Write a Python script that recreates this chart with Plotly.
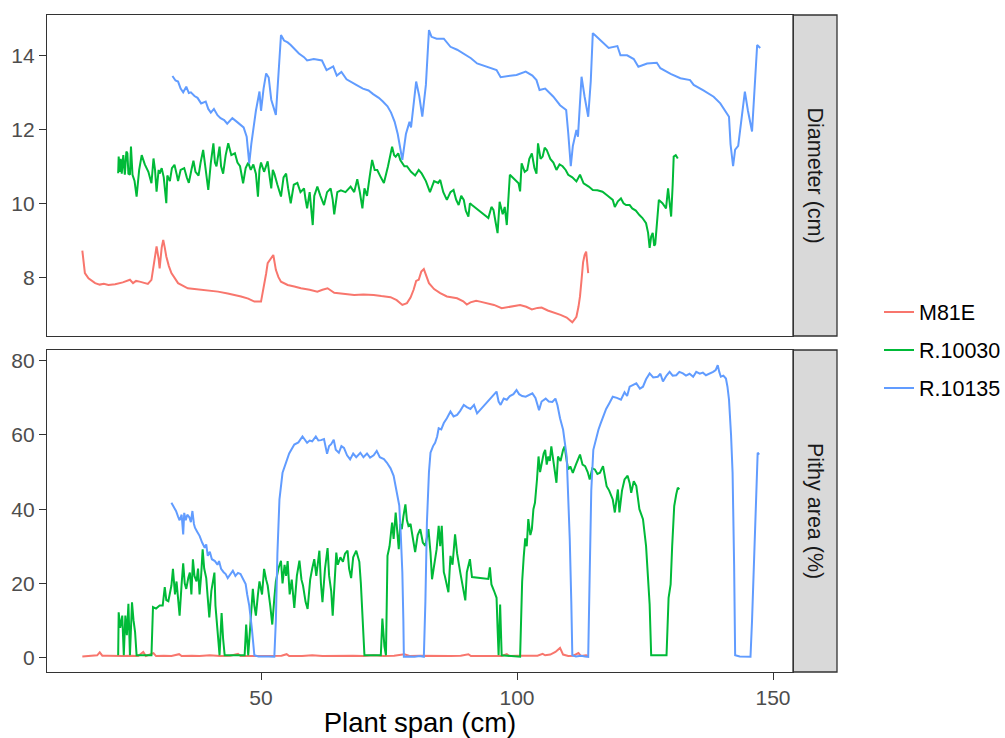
import plotly.graph_objects as go

# ---------------- data ----------------
series_names = ["M81E", "R.10030", "R.10135"]
series_colors = ["#F8766D", "#00BA38", "#619CFF"]

m81e_diam_x = [15.1, 15.6, 16.3, 17.0, 17.6, 18.5, 19.3, 20.2, 21.5, 23.0, 24.4, 25.0, 25.6, 26.3, 27.1, 27.9, 28.6, 29.2, 29.6, 30.0, 30.2, 30.6, 30.9, 31.2, 31.5, 32.0, 32.5, 33.8, 35.7, 37.0, 38.3, 40.0, 41.6, 43.5, 45.0, 46.1, 47.5, 48.7, 50.0, 50.6, 51.0, 51.3, 51.9, 52.4, 52.9, 53.4, 53.9, 55.2, 56.5, 57.8, 59.5, 61.0, 62.0, 63.0, 64.3, 66.0, 68.2, 70.0, 72.0, 73.5, 75.3, 76.5, 77.6, 78.5, 79.2, 79.8, 80.3, 80.8, 81.3, 81.8, 82.3, 82.8, 83.8, 85.0, 86.3, 88.3, 89.5, 90.2, 90.9, 92.0, 92.8, 94.1, 95.5, 97.0, 98.8, 100.6, 101.8, 102.9, 104.0, 104.8, 106.0, 107.1, 108.5, 109.7, 110.3, 110.8, 111.2, 111.6, 112.0, 112.3, 112.6, 112.9, 113.2, 113.5, 113.9]
m81e_diam_y = [8.72, 8.11, 7.97, 7.90, 7.84, 7.80, 7.82, 7.79, 7.81, 7.86, 7.93, 7.84, 7.90, 7.88, 7.86, 7.82, 7.93, 8.40, 8.83, 8.50, 8.24, 8.80, 9.01, 8.80, 8.56, 8.30, 8.11, 7.84, 7.70, 7.68, 7.66, 7.62, 7.61, 7.56, 7.52, 7.48, 7.42, 7.34, 7.34, 7.75, 8.10, 8.38, 8.51, 8.60, 8.20, 8.00, 7.88, 7.79, 7.75, 7.70, 7.66, 7.61, 7.66, 7.70, 7.58, 7.55, 7.52, 7.53, 7.52, 7.49, 7.46, 7.38, 7.25, 7.30, 7.45, 7.66, 7.90, 7.93, 8.15, 8.22, 8.00, 7.84, 7.68, 7.57, 7.48, 7.43, 7.35, 7.26, 7.32, 7.36, 7.34, 7.30, 7.25, 7.16, 7.20, 7.25, 7.20, 7.13, 7.17, 7.18, 7.10, 7.05, 6.98, 6.91, 6.85, 6.78, 6.85, 6.93, 7.20, 7.48, 7.93, 8.40, 8.60, 8.69, 8.11]

r10030_diam_x = [22.1, 22.2, 22.4, 22.6, 22.8, 23.1, 23.4, 23.7, 23.9, 24.1, 24.4, 24.6, 24.9, 25.3, 25.7, 26.2, 26.7, 27.3, 28.0, 28.4, 28.6, 29.0, 29.3, 29.6, 30.0, 30.2, 30.6, 31.0, 31.5, 31.7, 32.2, 32.6, 33.1, 33.5, 33.8, 34.3, 35.0, 35.5, 35.9, 36.4, 36.8, 37.2, 37.8, 38.2, 38.7, 39.2, 39.7, 40.2, 40.7, 41.0, 41.3, 41.9, 42.2, 42.6, 43.1, 43.6, 44.2, 44.9, 45.4, 45.9, 46.5, 47.0, 47.5, 48.0, 48.5, 49.0, 49.4, 49.7, 50.0, 50.6, 51.3, 51.7, 52.0, 52.3, 52.6, 53.2, 53.9, 54.4, 54.9, 55.3, 55.8, 56.4, 57.1, 57.7, 58.4, 58.7, 59.0, 59.5, 60.1, 60.4, 61.0, 61.6, 62.3, 62.9, 63.6, 64.0, 64.3, 64.9, 65.6, 66.5, 67.5, 68.2, 68.8, 69.3, 69.8, 70.2, 70.7, 71.2, 71.7, 72.2, 72.7, 73.4, 74.0, 74.8, 75.6, 76.0, 76.3, 76.8, 77.2, 78.0, 78.5, 79.3, 80.1, 80.8, 81.4, 82.2, 83.0, 83.8, 84.6, 85.0, 85.6, 86.3, 87.0, 87.6, 88.1, 88.6, 89.1, 89.6, 90.0, 90.5, 90.8, 91.2, 94.4, 95.0, 95.4, 95.8, 96.2, 96.6, 97.2, 97.6, 98.0, 98.6, 99.5, 100.3, 100.6, 100.9, 101.5, 102.0, 102.4, 102.9, 103.4, 103.8, 104.1, 104.6, 105.0, 105.4, 105.8, 106.5, 107.1, 107.7, 108.3, 108.9, 109.5, 110.0, 110.8, 111.6, 112.3, 113.0, 114.0, 114.8, 115.7, 116.7, 117.7, 118.7, 119.1, 119.7, 120.3, 120.8, 121.3, 122.0, 122.5, 123.2, 123.9, 124.5, 125.2, 125.6, 125.9, 126.2, 126.5, 126.8, 127.0, 127.3, 127.7, 128.4, 129.1, 129.5, 130.1, 130.4, 130.6, 131.0, 131.4]
r10030_diam_y = [10.81, 11.26, 10.85, 11.20, 10.80, 11.30, 10.77, 11.40, 11.35, 10.80, 10.77, 11.53, 10.77, 10.60, 10.18, 10.90, 11.30, 11.05, 10.85, 10.60, 10.54, 11.21, 10.90, 10.31, 10.90, 10.80, 10.95, 10.70, 10.00, 10.75, 10.60, 10.95, 11.04, 10.80, 10.60, 10.90, 10.95, 10.70, 10.55, 10.90, 11.15, 10.85, 10.75, 11.10, 11.44, 10.90, 10.36, 11.10, 11.62, 11.10, 11.00, 11.53, 11.00, 10.80, 11.30, 11.62, 11.30, 11.35, 11.10, 11.00, 10.54, 10.95, 11.10, 10.90, 11.05, 10.80, 10.18, 10.90, 11.10, 10.85, 11.13, 10.70, 10.40, 10.90, 10.80, 10.50, 10.18, 10.70, 10.80, 10.40, 10.00, 10.50, 10.55, 10.30, 10.40, 10.10, 9.86, 10.30, 9.41, 10.20, 10.45, 10.20, 9.95, 10.30, 10.40, 10.10, 9.70, 10.30, 10.35, 10.30, 10.45, 10.30, 10.65, 10.30, 9.86, 10.40, 10.20, 10.70, 11.17, 10.90, 10.90, 10.70, 10.55, 11.00, 11.53, 11.30, 11.26, 11.35, 11.17, 11.00, 11.00, 10.85, 10.75, 10.90, 10.80, 10.60, 10.30, 10.60, 10.55, 10.63, 10.30, 10.09, 10.30, 10.36, 10.10, 9.95, 10.20, 10.09, 9.80, 9.64, 10.00, 9.95, 9.60, 9.90, 9.82, 9.50, 9.19, 10.04, 9.70, 9.90, 9.41, 10.77, 10.65, 10.54, 10.32, 11.08, 10.85, 10.90, 11.20, 11.35, 10.95, 10.80, 11.62, 11.20, 11.26, 11.50, 11.44, 11.20, 11.10, 10.90, 11.05, 11.00, 10.90, 10.77, 10.70, 10.59, 10.77, 10.54, 10.45, 10.36, 10.35, 10.31, 10.20, 10.09, 9.90, 10.05, 10.13, 10.00, 9.95, 9.95, 9.86, 9.80, 9.68, 9.60, 9.46, 9.20, 8.79, 9.10, 9.20, 8.85, 8.90, 9.50, 10.09, 10.00, 9.86, 10.40, 9.64, 10.50, 11.26, 11.30, 11.21]

r10135_diam_x = [32.7, 33.3, 33.8, 34.3, 34.8, 35.4, 35.9, 36.3, 37.0, 37.6, 38.3, 39.2, 39.7, 40.2, 40.8, 41.5, 42.1, 42.8, 43.4, 44.4, 45.3, 46.0, 46.6, 47.2, 47.7, 48.1, 48.6, 49.0, 49.7, 50.0, 50.5, 51.0, 51.5, 52.0, 52.9, 53.3, 53.9, 54.5, 55.2, 55.8, 56.4, 57.4, 58.4, 59.0, 60.3, 61.1, 61.9, 62.8, 64.1, 64.8, 65.7, 66.7, 67.7, 68.6, 69.9, 71.0, 71.9, 73.0, 73.8, 74.7, 75.4, 76.1, 76.7, 77.2, 77.6, 78.3, 79.0, 79.3, 80.3, 80.9, 81.5, 82.2, 82.8, 83.3, 84.3, 85.7, 87.0, 88.3, 89.6, 91.0, 92.2, 94.0, 96.0, 96.8, 98.5, 99.9, 101.7, 103.0, 103.8, 104.4, 105.5, 107.1, 108.4, 109.6, 110.0, 110.5, 110.9, 111.6, 111.9, 112.6, 113.2, 113.9, 114.4, 114.8, 115.2, 116.6, 117.9, 119.6, 120.2, 121.5, 122.8, 123.7, 125.4, 127.3, 128.0, 130.0, 131.9, 133.8, 134.5, 136.4, 138.4, 139.7, 140.6, 141.4, 141.7, 142.2, 142.6, 143.2, 144.5, 145.1, 145.9, 146.4, 146.9, 147.5]
r10135_diam_y = [13.44, 13.32, 13.29, 13.10, 13.00, 13.15, 12.98, 13.00, 12.90, 12.85, 12.70, 12.75, 12.55, 12.45, 12.55, 12.38, 12.30, 12.25, 12.15, 12.30, 12.20, 12.12, 12.05, 11.80, 11.08, 11.60, 12.10, 12.50, 13.02, 12.50, 13.10, 13.51, 13.40, 12.80, 12.39, 13.40, 14.55, 14.40, 14.35, 14.28, 14.20, 14.05, 13.95, 13.86, 13.90, 13.88, 13.86, 13.60, 13.70, 13.45, 13.55, 13.35, 13.28, 13.20, 13.10, 13.05, 12.95, 12.85, 12.75, 12.62, 12.45, 12.20, 11.87, 11.50, 11.17, 11.87, 12.20, 12.05, 13.29, 12.90, 12.34, 13.20, 14.68, 14.50, 14.45, 14.45, 14.23, 14.15, 14.05, 13.92, 13.78, 13.70, 13.60, 13.41, 13.45, 13.47, 13.56, 13.45, 13.33, 13.06, 13.10, 12.88, 12.65, 12.52, 11.90, 11.00, 11.55, 11.98, 11.80, 13.42, 12.88, 12.34, 13.30, 14.60, 14.55, 14.38, 14.20, 14.25, 14.00, 14.00, 13.90, 13.69, 13.78, 13.80, 13.65, 13.50, 13.38, 13.33, 13.20, 13.05, 12.88, 12.70, 12.52, 12.34, 11.60, 11.00, 11.45, 11.55, 13.02, 12.50, 11.94, 12.97, 14.28, 14.20]

m81e_pith_x = [15.1, 16.0, 17.0, 18.0, 18.5, 19.0, 20.0, 21.5, 23.0, 24.5, 26.0, 27.0, 27.5, 29.0, 29.5, 31.0, 32.5, 34.0, 34.5, 36.5, 38.0, 40.0, 42.0, 44.0, 45.5, 46.0, 48.0, 50.0, 52.0, 54.0, 55.0, 55.5, 58.0, 60.0, 62.0, 64.0, 66.0, 68.0, 70.0, 72.0, 74.0, 76.0, 78.0, 79.0, 81.0, 83.0, 85.0, 87.0, 89.0, 90.5, 91.0, 93.0, 95.0, 97.0, 98.0, 98.5, 100.0, 102.0, 104.0, 105.0, 105.5, 106.5, 107.5, 108.4, 109.0, 110.0, 111.0, 112.0, 112.5, 113.5, 113.9]
m81e_pith_y = [0.3, 0.35, 0.5, 0.6, 1.4, 0.5, 0.5, 0.4, 0.4, 0.5, 0.4, 1.5, 0.4, 1.2, 0.4, 0.5, 0.4, 0.9, 0.4, 0.5, 0.4, 0.6, 0.4, 0.5, 1.0, 0.4, 0.4, 0.5, 0.4, 0.5, 0.9, 0.4, 0.4, 0.6, 0.4, 0.5, 0.4, 0.5, 0.4, 0.6, 0.4, 0.5, 0.9, 0.4, 0.5, 0.4, 0.5, 0.4, 0.5, 0.9, 0.4, 0.4, 0.5, 0.4, 0.9, 0.4, 0.5, 0.4, 0.5, 1.0, 0.6, 0.8, 1.5, 2.6, 0.8, 0.4, 0.5, 1.2, 0.4, 0.6, 0.4]

r10030_pith_x = [22.1, 22.2, 22.5, 22.9, 23.2, 23.5, 23.8, 24.1, 24.4, 24.8, 25.1, 25.4, 25.7, 28.6, 28.9, 29.5, 30.2, 30.8, 31.2, 31.5, 31.9, 32.5, 32.8, 33.2, 33.5, 34.1, 34.5, 34.8, 35.1, 35.4, 35.8, 36.1, 36.4, 36.7, 37.0, 37.4, 37.7, 38.0, 38.3, 38.6, 38.9, 39.3, 39.6, 39.9, 40.3, 40.9, 41.1, 41.4, 41.7, 41.9, 42.3, 42.6, 42.9, 46.8, 47.1, 47.5, 47.9, 48.4, 48.7, 49.0, 49.4, 49.7, 50.2, 50.6, 51.0, 51.3, 51.8, 52.2, 52.6, 52.9, 53.4, 53.9, 54.2, 54.6, 54.9, 55.2, 55.6, 56.0, 56.5, 57.0, 57.5, 57.9, 58.2, 58.7, 59.1, 59.6, 60.0, 60.4, 60.8, 61.4, 61.7, 62.0, 62.5, 63.0, 63.3, 63.7, 64.0, 64.4, 64.7, 65.0, 65.5, 66.0, 66.4, 66.9, 67.2, 67.6, 68.0, 68.6, 69.2, 69.5, 69.8, 70.2, 73.4, 73.7, 74.1, 74.4, 74.7, 75.1, 75.6, 75.9, 76.3, 76.6, 76.9, 77.2, 77.5, 77.8, 78.2, 78.5, 78.8, 79.2, 79.5, 79.8, 80.1, 80.6, 81.1, 81.6, 82.1, 82.7, 83.1, 83.4, 83.8, 84.3, 84.7, 85.0, 85.3, 85.7, 85.9, 86.3, 86.6, 87.0, 87.4, 87.9, 88.3, 88.9, 89.3, 89.9, 90.2, 90.8, 91.2, 94.4, 94.7, 95.0, 95.5, 96.0, 96.2, 96.4, 96.7, 97.0, 100.6, 101.0, 101.3, 101.6, 101.9, 102.2, 102.6, 102.9, 103.2, 103.5, 103.9, 104.2, 104.5, 104.8, 105.2, 105.5, 105.8, 106.1, 106.4, 106.7, 107.2, 107.7, 108.0, 108.5, 109.0, 109.3, 109.7, 110.0, 110.4, 110.9, 111.5, 112.3, 112.8, 113.3, 113.8, 114.2, 114.7, 115.2, 115.7, 116.2, 116.8, 117.5, 118.0, 118.7, 119.1, 119.4, 119.7, 120.0, 120.5, 121.0, 121.6, 122.0, 122.3, 122.8, 123.3, 123.9, 124.6, 125.2, 125.6, 125.9, 126.2, 129.2, 129.6, 130.0, 130.3, 130.7, 131.1, 131.4, 131.7]
r10030_pith_y = [0.6, 12.2, 8.0, 11.3, 0.6, 11.3, 6.0, 14.5, 0.6, 14.9, 10.0, 6.9, 0.6, 0.6, 13.6, 13.2, 14.0, 14.0, 19.0, 15.5, 15.2, 19.4, 23.9, 17.0, 20.5, 11.3, 20.0, 25.4, 20.0, 18.5, 21.5, 22.9, 17.0, 26.5, 22.0, 20.5, 24.0, 17.0, 22.0, 29.2, 24.0, 21.4, 16.0, 10.8, 18.0, 22.9, 14.0, 9.8, 4.0, 0.6, 12.0, 5.0, 0.6, 0.6, 8.9, 0.6, 10.0, 18.5, 14.0, 11.3, 17.0, 20.5, 17.0, 23.9, 21.0, 19.4, 14.0, 8.9, 16.0, 20.5, 24.0, 26.1, 20.0, 25.0, 22.0, 26.0, 17.0, 21.0, 13.4, 22.0, 26.1, 21.0, 19.4, 15.0, 13.1, 21.0, 24.0, 26.5, 22.0, 28.8, 20.0, 14.9, 24.0, 29.5, 22.0, 18.0, 11.3, 22.0, 28.3, 25.0, 27.0, 25.8, 28.0, 28.8, 24.0, 21.4, 27.0, 28.8, 25.8, 20.0, 11.3, 0.6, 0.6, 10.5, 3.0, 0.6, 27.4, 30.0, 36.4, 32.0, 39.1, 34.0, 29.2, 36.0, 34.6, 38.0, 41.3, 37.0, 35.5, 36.0, 33.7, 31.0, 28.4, 33.0, 34.6, 31.0, 30.1, 34.6, 28.3, 21.1, 25.0, 29.2, 35.5, 30.0, 35.5, 23.0, 22.0, 19.0, 17.6, 27.4, 25.0, 33.2, 28.0, 23.0, 20.0, 15.4, 23.0, 26.5, 21.7, 21.2, 24.3, 19.7, 18.0, 16.1, 8.0, 0.6, 14.3, 0.6, 0.2, 20.5, 27.0, 32.1, 30.0, 37.3, 33.0, 34.6, 40.0, 41.7, 48.0, 54.2, 50.0, 52.5, 55.0, 56.0, 52.0, 54.2, 53.0, 56.9, 52.0, 47.1, 54.2, 53.0, 56.0, 56.9, 53.0, 50.7, 51.5, 49.8, 52.0, 54.7, 52.0, 51.6, 50.0, 48.0, 51.0, 50.7, 49.5, 49.8, 51.6, 46.2, 45.0, 42.6, 39.1, 43.0, 45.3, 39.1, 45.0, 48.0, 49.0, 47.0, 44.4, 47.5, 46.2, 40.0, 37.3, 30.1, 22.0, 14.3, 0.6, 0.6, 16.1, 19.7, 30.0, 40.8, 44.0, 45.8, 45.3]

r10135_pith_x = [32.5, 32.8, 33.1, 33.4, 33.8, 34.1, 34.5, 34.8, 35.0, 35.3, 35.6, 36.0, 36.3, 36.6, 36.9, 37.1, 37.5, 38.0, 38.5, 39.0, 39.3, 39.6, 40.0, 40.4, 41.0, 41.5, 41.8, 42.2, 42.7, 43.1, 43.5, 44.0, 44.5, 45.0, 45.5, 46.0, 46.5, 47.0, 47.3, 47.7, 48.2, 48.7, 49.5, 50.5, 51.5, 52.6, 52.9, 53.2, 53.6, 54.2, 54.8, 55.5, 56.5, 57.3, 58.1, 58.6, 59.0, 59.5, 60.0, 60.7, 61.2, 61.7, 62.3, 62.9, 63.3, 63.7, 64.2, 64.6, 65.2, 65.7, 66.2, 66.8, 67.4, 68.0, 68.6, 69.4, 70.0, 70.7, 71.3, 72.0, 72.6, 73.2, 74.0, 74.6, 75.3, 75.9, 76.5, 77.0, 77.3, 77.6, 77.8, 77.9, 79.0, 80.0, 81.0, 81.8, 82.1, 82.4, 82.8, 83.1, 83.6, 84.0, 84.4, 84.7, 85.2, 85.7, 86.3, 87.0, 87.6, 88.3, 88.9, 89.6, 90.2, 90.9, 91.6, 92.2, 96.0, 96.4, 96.8, 97.4, 98.0, 98.6, 99.3, 99.9, 100.4, 101.0, 101.7, 102.3, 103.0, 103.6, 104.3, 104.8, 105.6, 106.2, 106.9, 107.5, 107.9, 108.4, 109.0, 109.7, 110.0, 110.3, 110.6, 110.8, 111.5, 112.5, 113.3, 113.9, 114.2, 114.5, 114.9, 115.4, 115.9, 116.3, 116.8, 117.4, 118.0, 118.7, 119.5, 120.3, 121.0, 121.5, 122.0, 122.7, 123.3, 124.0, 124.6, 125.2, 125.9, 126.6, 127.5, 128.0, 128.5, 129.2, 129.8, 130.4, 131.1, 131.7, 132.4, 133.0, 133.7, 134.4, 135.0, 135.7, 136.3, 136.9, 137.6, 138.3, 138.8, 139.2, 139.5, 139.8, 140.3, 140.8, 141.1, 141.4, 141.8, 142.1, 142.4, 142.6, 143.5, 144.5, 145.6, 145.9, 146.2, 146.6, 147.0, 147.3]
r10135_pith_y = [41.7, 41.0, 40.5, 39.5, 38.0, 37.0, 38.5, 33.2, 39.0, 37.0, 38.5, 37.8, 36.5, 39.5, 36.0, 35.0, 34.0, 32.8, 31.0, 29.6, 30.5, 27.4, 28.5, 26.5, 26.0, 25.0, 26.0, 23.9, 23.0, 22.5, 21.4, 22.5, 23.4, 22.0, 22.8, 22.5, 21.0, 19.8, 17.0, 14.0, 8.0, 0.6, 0.3, 0.4, 0.3, 0.2, 10.0, 28.0, 42.6, 49.8, 52.5, 55.0, 57.4, 58.0, 59.6, 58.5, 57.9, 58.5, 58.3, 59.6, 58.5, 58.6, 58.9, 54.9, 57.0, 57.5, 58.7, 56.0, 55.2, 57.0, 56.5, 54.5, 53.4, 55.0, 54.0, 55.2, 54.0, 55.0, 53.9, 54.5, 55.7, 54.0, 53.5, 52.5, 51.0, 49.0, 45.0, 41.0, 33.0, 23.0, 10.0, 0.2, 0.3, 0.2, 0.4, 0.2, 15.0, 36.4, 50.0, 55.2, 57.0, 57.9, 59.6, 61.8, 61.5, 63.2, 64.5, 66.3, 65.0, 65.4, 66.5, 68.1, 67.5, 67.0, 68.1, 65.8, 71.7, 69.0, 68.1, 69.8, 69.5, 70.5, 71.0, 72.1, 71.0, 70.5, 70.3, 70.8, 71.2, 70.0, 66.7, 69.0, 69.8, 69.0, 68.9, 69.8, 68.0, 64.5, 61.4, 54.2, 45.0, 31.9, 15.0, 0.6, 0.3, 0.5, 0.3, 0.2, 23.0, 45.0, 56.0, 59.0, 61.4, 63.0, 65.0, 67.0, 68.5, 70.3, 70.0, 69.5, 71.5, 70.5, 73.0, 73.5, 73.9, 72.5, 73.0, 75.0, 76.6, 75.5, 75.7, 76.5, 74.4, 76.0, 77.0, 76.0, 76.1, 77.0, 76.6, 76.0, 76.5, 75.7, 77.0, 76.5, 76.8, 76.1, 76.5, 77.0, 77.5, 78.8, 77.0, 75.7, 76.0, 75.2, 73.0, 69.5, 60.0, 49.8, 25.0, 0.6, 0.3, 0.3, 0.2, 10.0, 23.0, 40.0, 55.2, 54.7]

facet_labels = ["Diameter (cm)", "Pithy area (%)"]
x_title = "Plant span (cm)"
x_ticks = [50, 100, 150]
diam_ticks = [8, 10, 12, 14]
pith_ticks = [0, 20, 40, 60, 80]

# ---------------- figure ----------------
W, H = 1005, 738
ML, MR, MT, MB = 47, 212, 15, 66
plot_w = W - ML - MR
plot_h = H - MT - MB
top_dom = [(672 - 336) / plot_h, 1.0]
bot_dom = [0.0, (672 - 350) / plot_h]

fig = go.Figure()
diam = [(m81e_diam_x, m81e_diam_y), (r10030_diam_x, r10030_diam_y), (r10135_diam_x, r10135_diam_y)]
pith = [(m81e_pith_x, m81e_pith_y), (r10030_pith_x, r10030_pith_y), (r10135_pith_x, r10135_pith_y)]

for i, (name, col) in enumerate(zip(series_names, series_colors)):
    fig.add_trace(go.Scatter(x=diam[i][0], y=diam[i][1], mode="lines", name=name,
                             line=dict(color=col, width=2), xaxis="x2", yaxis="y2",
                             legendgroup=name, showlegend=True))
    fig.add_trace(go.Scatter(x=pith[i][0], y=pith[i][1], mode="lines", name=name,
                             line=dict(color=col, width=2), xaxis="x", yaxis="y",
                             legendgroup=name, showlegend=False))

FONT = "Liberation Sans, Arial, sans-serif"
axis_common = dict(showline=True, mirror=True, linecolor="#333333", linewidth=1.3,
                   showgrid=False, zeroline=False, ticks="outside", ticklen=7,
                   tickcolor="#333333", tickwidth=1.3, automargin=False,
                   tickfont=dict(family=FONT, size=21, color="#4D4D4D"))
xr = [8.2, 153.9]
fig.update_layout(
    width=W, height=H,
    margin=dict(l=ML, r=MR, t=MT, b=MB, autoexpand=False),
    paper_bgcolor="white", plot_bgcolor="white",
    xaxis=dict(domain=[0, 1], anchor="y", range=xr, tickvals=x_ticks,
               title=dict(text=x_title, font=dict(family=FONT, size=27.5, color="black"), standoff=1),
               **axis_common),
    xaxis2=dict(domain=[0, 1], anchor="y2", range=xr, matches="x", showticklabels=False,
                **{k: v for k, v in axis_common.items() if k != "ticks"}, ticks=""),
    yaxis=dict(domain=bot_dom, anchor="x", range=[-3.9, 82.9], tickvals=pith_ticks, **axis_common),
    yaxis2=dict(domain=top_dom, anchor="x2", range=[6.41, 15.09], tickvals=diam_ticks, **axis_common),
    legend=dict(x=(879 - ML) / plot_w, xanchor="left", y=0.49, yanchor="middle",
                font=dict(family=FONT, size=21.5, color="black"), tracegroupgap=7,
                bgcolor="rgba(0,0,0,0)"),
    showlegend=True,
)

sx0 = 1.0
sx1 = (837 - ML) / plot_w
for dom, label in zip([top_dom, bot_dom], facet_labels):
    fig.add_shape(type="rect", xref="paper", yref="paper", x0=sx0, x1=sx1, y0=dom[0], y1=dom[1],
                  fillcolor="#D9D9D9", line=dict(color="#333333", width=1.3), layer="below")
    fig.add_annotation(x=(sx0 + sx1) / 2, y=(dom[0] + dom[1]) / 2, xref="paper", yref="paper",
                       xanchor="center", yanchor="middle",
                       text=label, textangle=90, showarrow=False,
                       font=dict(family=FONT, size=21.5, color="#1A1A1A"))

fig.write_html("out.html")
